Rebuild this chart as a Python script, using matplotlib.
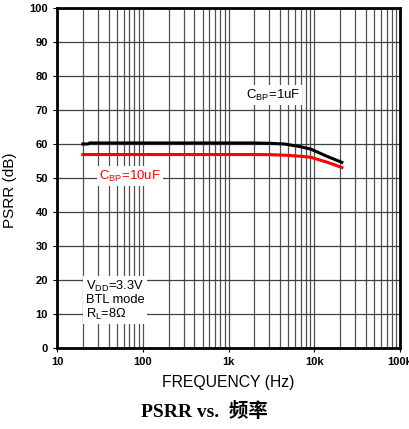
import numpy as np
import matplotlib
matplotlib.use("Agg")
import matplotlib.pyplot as plt
from matplotlib.ticker import FixedLocator, NullFormatter

plt.rcParams['font.family'] = ['Liberation Sans', 'DejaVu Sans']
plt.rcParams['mathtext.fontset'] = 'custom'
plt.rcParams['mathtext.rm'] = 'Liberation Sans'

# data
freq_1u = [20, 23, 24, 100, 1000, 2000, 3000, 4500, 6900, 9100, 14300, 21000]
psrr_1u = [60.0, 60.0, 60.3, 60.3, 60.3, 60.3, 60.2, 60.0, 59.2, 58.5, 56.3, 54.6]
freq_10u = [20, 100, 1000, 2000, 3200, 4500, 6900, 9100, 14300, 21000]
psrr_10u = [56.9, 56.9, 56.9, 56.9, 56.85, 56.7, 56.4, 56.1, 54.6, 53.1]

xticks = [10, 100, 1000, 10000, 100000]
xticklabels = ['10', '100', '1k', '10k', '100k']
yticks = list(range(0, 101, 10))

fig = plt.figure(figsize=(4.09, 4.29), dpi=100)
ax = fig.add_axes([0.1394, 0.1888, 0.978 - 0.1394, 0.9814 - 0.1888])

ax.set_xscale('log')
ax.set_xlim(10, 100000)
ax.set_ylim(0, 100)

minor = [m * 10 ** d for d in range(1, 5) for m in range(2, 10)]
ax.xaxis.set_minor_locator(FixedLocator(minor))
ax.xaxis.set_minor_formatter(NullFormatter())
ax.set_xticks(xticks)
ax.set_xticklabels(xticklabels)
ax.set_yticks(yticks)

ax.grid(True, which='both', axis='x', color='#505050', lw=0.9)
ax.grid(True, which='major', axis='y', color='#404040', lw=0.9)
ax.set_axisbelow(True)

for s in ax.spines.values():
    s.set_linewidth(2)
ax.tick_params(axis='both', which='major', labelsize=8, length=3, width=0.8)
ax.tick_params(axis='x', which='minor', length=0)
for lab in ax.get_xticklabels() + ax.get_yticklabels():
    lab.set_fontweight('bold')

ax.plot(freq_1u, psrr_1u, color='black', lw=2.2, zorder=3)
ax.plot(freq_10u, psrr_10u, color='#ff0000', lw=2.2, zorder=3)

ax.text(1580, 74.4, r'C$_{\mathrm{BP}}$=1uF', fontsize=9.5, va='center',
        bbox=dict(facecolor='white', edgecolor='none', pad=1.5), zorder=4)
ax.text(31, 50.6, r'C$_{\mathrm{BP}}$=10uF', fontsize=9.5, va='center', color='#ff0000',
        bbox=dict(facecolor='white', edgecolor='none', pad=1.5), zorder=4)
ax.text(21.5, 14, 'V$_{\\mathrm{DD}}$=3.3V\nBTL mode\nR$_{\\mathrm{L}}$=8\u03a9', fontsize=9.3,
        va='center', linespacing=1.0,
        bbox=dict(facecolor='white', edgecolor='none', pad=2), zorder=4)

ax.set_ylabel('PSRR (dB)', fontsize=11, labelpad=8)
ax.yaxis.set_label_coords(-0.118, 0.465)
ax.set_xlabel('FREQUENCY (Hz)', fontsize=11.3, labelpad=6)

fig.text(0.5, 0.040, 'PSRR vs.  频率', ha='center', va='center', fontsize=14,
         fontweight='bold', family=['Liberation Serif', 'Noto Sans CJK SC'])

fig.savefig('out.png', dpi=100)
